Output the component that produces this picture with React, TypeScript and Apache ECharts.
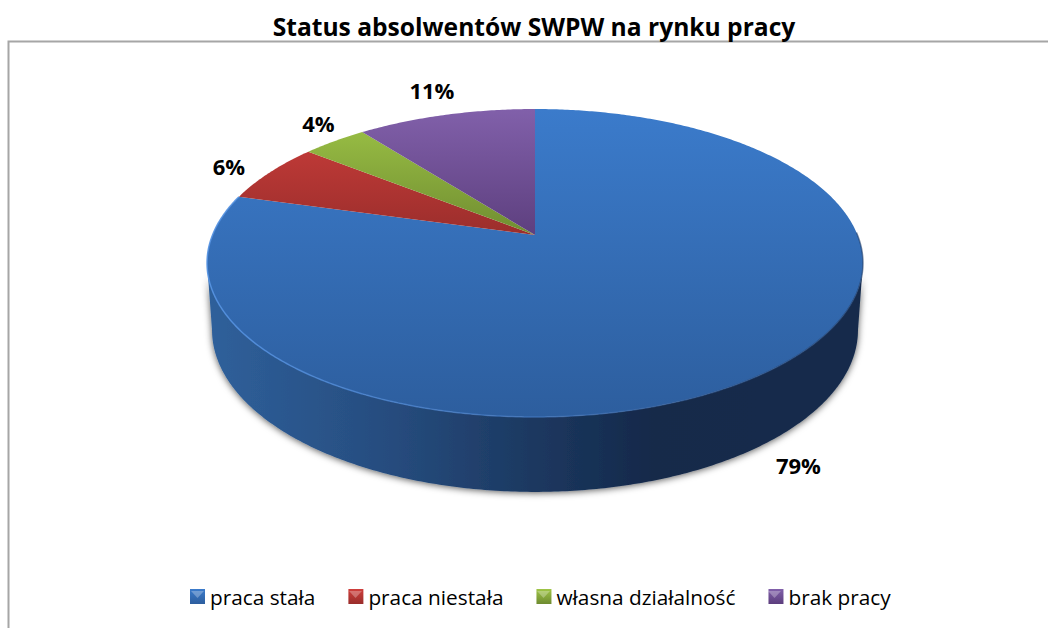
import React, { useEffect, useRef } from "react";
import * as echarts from "echarts";

const TITLE = "Status absolwentów SWPW na rynku pracy";
const CATEGORIES = ["praca stała", "praca niestała", "własna działalność", "brak pracy"];
const VALUES = [79.35, 6.35, 3.8, 10.5];
const PERCENT_LABELS = ["79%", "6%", "4%", "11%"];

const FONT = "'Open Sans', Lato, sans-serif";
const K = 0.1818;
const TOP = { cx: 535, y0: 235, R: 322.5, S: 148.9 };
const BOTTOM = { cx: 535, y0: 300.5, R: 317.6, S: 156.6 };
const SHADES = [
  ["#3b7bcb", "#2d5e9e"],
  ["#cf3f3c", "#992d2b"],
  ["#9fc547", "#6e8b30"],
  ["#8160aa", "#5c3e7d"],
];
const LABEL_OFFSETS: [number, number][] = [
  [39, 19],
  [-41, -6],
  [-16, -18],
  [-14, -25],
];
const LEGEND_MARK_X = [190, 348, 536, 767];

const project = (plane: typeof TOP, a: number, f = 1): [number, number] => {
  const u = Math.sin(a) * f;
  const v = -Math.cos(a) * f;
  const d = 1 - K * v;
  return [plane.cx + (plane.R * u) / d, plane.y0 + (plane.S * v) / d];
};

const total = VALUES.reduce((s, v) => s + v, 0);
const startOf = (i: number) => (VALUES.slice(0, i).reduce((s, v) => s + v, 0) / total) * Math.PI * 2;
const VIS_A = Math.acos(-K);
const VIS_B = Math.PI * 2 - VIS_A;

const arc = (plane: typeof TOP, a0: number, a1: number) => {
  const pts: [number, number][] = [];
  const n = Math.max(2, Math.ceil(Math.abs(a1 - a0) / 0.01));
  for (let i = 0; i <= n; i++) pts.push(project(plane, a0 + ((a1 - a0) * i) / n));
  return pts;
};

const vGrad = (i: number) => {
  const y0 = 109;
  const y1 = i === 0 ? 417 : 240;
  return new echarts.graphic.LinearGradient(0, y0, 0, y1, [
    { offset: 0, color: SHADES[i][0] },
    { offset: 1, color: SHADES[i][1] },
  ], true);
};

const wallGrad = () =>
  new echarts.graphic.LinearGradient(207, 0, 863, 0, [
    { offset: 0, color: "#2f609b" },
    { offset: 0.28, color: "#264c7e" },
    { offset: 0.5, color: "#1c3860" },
    { offset: 0.68, color: "#14294a" },
    { offset: 1, color: "#152b4c" },
  ], true);

const rimGrad = () =>
  new echarts.graphic.LinearGradient(207, 0, 863, 0, [
    { offset: 0, color: "rgba(84,146,226,0.9)" },
    { offset: 0.5, color: "rgba(70,125,200,0.6)" },
    { offset: 1, color: "rgba(30,60,105,0.6)" },
  ], true);

const makeRender = (i: number) => (_p: any, api: any) => {
  const value = api.value(0);
  const a0 = startOf(i);
  const a1 = a0 + (value / total) * Math.PI * 2;
  const children: any[] = [];
  const w0 = Math.max(a0, VIS_A);
  const w1 = Math.min(a1, VIS_B);
  if (w1 > w0) {
    const pts = [...arc(TOP, w0, w1), ...arc(BOTTOM, w0, w1).reverse()];
    children.push({
      type: "polygon",
      shape: { points: pts },
      style: { fill: wallGrad(), shadowColor: "rgba(0,0,0,0.65)", shadowBlur: 7, shadowOffsetX: 0, shadowOffsetY: 1 },
    });
  }
  children.push({
    type: "polygon",
    shape: { points: [[TOP.cx, TOP.y0], ...arc(TOP, a0, a1)] },
    style: { fill: vGrad(i) },
  });
  if (i === 0) {
    children.push({
      type: "polyline",
      shape: { points: arc(TOP, VIS_A - 0.2, a1) },
      style: { fill: "none", stroke: rimGrad(), lineWidth: 1.5 },
    });
  }
  const mid = (a0 + a1) / 2;
  const anchor = project(i === 0 ? BOTTOM : TOP, mid);
  children.push({
    type: "text",
    x: anchor[0] + LABEL_OFFSETS[i][0],
    y: anchor[1] + LABEL_OFFSETS[i][1],
    style: {
      text: PERCENT_LABELS[i],
      fill: "#000",
      font: `bold 22px ${FONT}`,
      align: "center",
      verticalAlign: "middle",
    },
  });
  return { type: "group", children };
};

export default function App() {
  const ref = useRef<HTMLDivElement>(null);
  useEffect(() => {
    const chart = echarts.init(ref.current!, undefined, { renderer: "svg" });
    chart.setOption({
      animation: false,
      backgroundColor: "#fff",
      title: {
        text: TITLE,
        left: 529,
        top: 9,
        textAlign: "center",
        textStyle: { fontFamily: FONT, fontWeight: "bold", fontSize: 24.6, color: "#000" },
      },
      legend: {
        left: 190,
        top: 586,
        padding: 0,
        itemWidth: 15,
        itemHeight: 15,
        itemGap: 33,
        icon: "rect",
        textStyle: { fontFamily: FONT, fontSize: 20.8, color: "#000" },
        data: CATEGORIES.map((name, i) => ({
          name,
          itemStyle: {
            color: new echarts.graphic.LinearGradient(0, 0, 0, 1, [
              { offset: 0, color: SHADES[i][0] },
              { offset: 1, color: SHADES[i][1] },
            ]),
          },
        })),
      },
      graphic: [
        {
          type: "polyline",
          silent: true,
          shape: { points: [[8.5, 628], [8.5, 41.5], [1048, 41.5]] },
          style: { fill: "none", stroke: "#a6a6a6", lineWidth: 2 },
        },
        ...LEGEND_MARK_X.map((x) => ({
          type: "polygon",
          silent: true,
          z: 100,
          shape: { points: [[x + 1, 591], [x + 14, 591], [x + 7.5, 598]] },
          style: { fill: "rgba(255,255,255,0.28)" },
        })),
      ],
      series: CATEGORIES.map((name, i) => ({
        type: "custom",
        name,
        coordinateSystem: "none",
        silent: true,
        itemStyle: { color: SHADES[i][0] },
        data: [[VALUES[i]]],
        renderItem: makeRender(i),
      })),
    });
    return () => chart.dispose();
  }, []);
  return <div ref={ref} style={{ position: "fixed", left: 0, top: 0, width: 1048, height: 628 }} />;
}
